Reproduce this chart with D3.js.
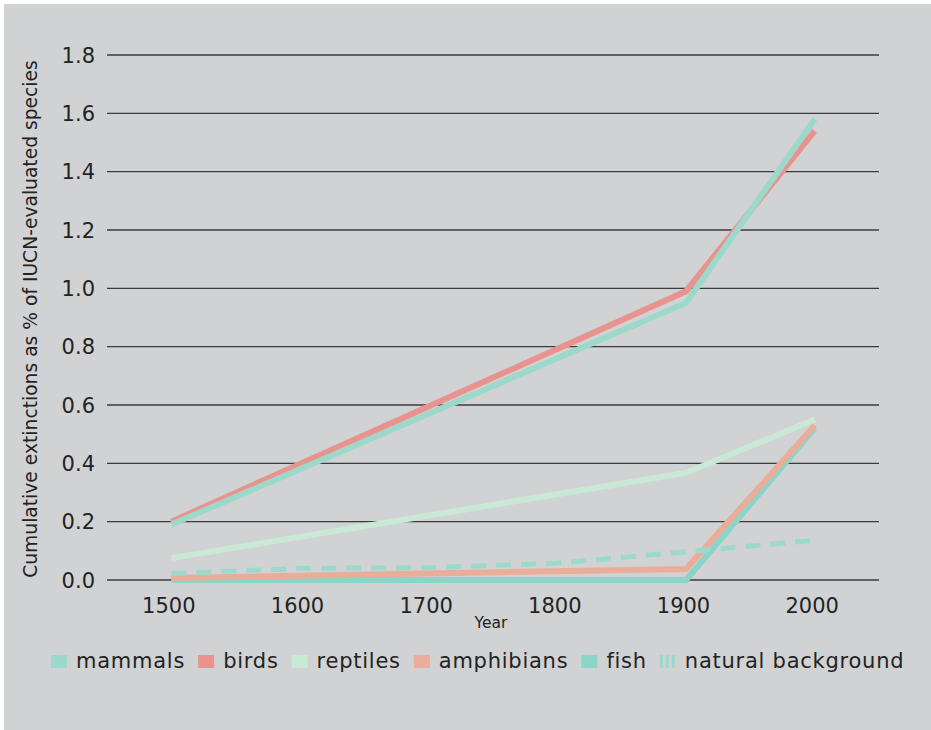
<!DOCTYPE html>
<html>
<head>
<meta charset="utf-8">
<script src="https://cdn.jsdelivr.net/npm/d3@7"></script>
<style>
  body { margin: 0; background: #ffffff; }
  svg { display: block; }
  text { font-family: "DejaVu Sans", sans-serif; fill: #232323; }
  .grid line { stroke: #3b3b3b; stroke-width: 1.4; }
</style>
</head>
<body>
<div id="chart"></div>
<script>
// Data
const years = [1500, 1600, 1700, 1800, 1900, 2000];
const yTicks = [0, 0.2, 0.4, 0.6, 0.8, 1.0, 1.2, 1.4, 1.6, 1.8];

const mammals    = [0.19, null, null, null, 0.95, 1.58];
const birds      = [0.20, null, null, null, 0.99, 1.54];
const reptiles   = [0.075, null, null, null, 0.367, 0.55];
const amphibians = [0.007, null, null, null, 0.038, 0.53];
const fish       = [0.0, null, null, null, 0.0, 0.52];
const background = [0.022, 0.04, 0.042, 0.058, 0.097, 0.136];

const seriesNames  = ["mammals", "birds", "reptiles", "amphibians", "fish", "natural background"];
const seriesColors = ["#9dd9cb", "#e8938e", "#cae8d6", "#e9ad9a", "#8ad4c8", "#9dd9cb"];

const width = 931, height = 730;

const svg = d3.select("#chart").append("svg")
    .attr("width", width)
    .attr("height", height);

// grey panel
svg.append("rect")
    .attr("x", 4).attr("y", 4)
    .attr("width", width - 4).attr("height", height - 4)
    .attr("fill", "#d1d2d4");

const x = d3.scaleLinear().domain([1450, 2050]).range([107, 879]);
const y = d3.scaleLinear().domain([0, 1.8]).range([580, 55]);

// gridlines
svg.append("g").attr("class", "grid")
  .selectAll("line")
  .data(yTicks)
  .join("line")
    .attr("x1", x.range()[0])
    .attr("x2", x.range()[1])
    .attr("y1", d => y(d))
    .attr("y2", d => y(d));

// y tick labels
svg.append("g")
  .selectAll("text")
  .data(yTicks)
  .join("text")
    .attr("x", 95)
    .attr("y", d => y(d))
    .attr("dy", "0.36em")
    .attr("text-anchor", "end")
    .attr("font-size", 21)
    .text(d => d.toFixed(1));

// x tick labels
svg.append("g")
  .selectAll("text")
  .data(years)
  .join("text")
    .attr("x", d => x(d) - 2.5)
    .attr("y", 613)
    .attr("text-anchor", "middle")
    .attr("font-size", 21)
    .text(d => d);

svg.append("text")
    .attr("x", 491)
    .attr("y", 628)
    .attr("text-anchor", "middle")
    .attr("font-size", 15.5)
    .text("Year");

const yTitle = svg.append("text")
    .attr("transform", "translate(37,319) rotate(-90)")
    .attr("text-anchor", "middle")
    .attr("font-size", 16)
    .text("Cumulative extinctions as % of IUCN-evaluated species");
// fit the title to the span it takes in the original
const tl = yTitle.node().getComputedTextLength();
yTitle.attr("font-size", 16 * 518 / tl);

// lines
const line = d3.line()
    .x(d => x(d.year))
    .y(d => y(d.v));

const toPts = arr => years.map((yr, i) => ({ year: yr, v: arr[i] })).filter(d => d.v !== null);

// draw order: bottom to top
const drawOrder = [
  { data: fish, i: 4 },
  { data: amphibians, i: 3 },
  { data: reptiles, i: 2 },
  { data: birds, i: 1 },
  { data: mammals, i: 0 },
  { data: background, i: 5, dashed: true }
];

svg.append("g")
  .selectAll("path")
  .data(drawOrder)
  .join("path")
    .attr("d", d => line(toPts(d.data)))
    .attr("fill", "none")
    .attr("stroke", d => seriesColors[d.i])
    .attr("stroke-width", d => d.dashed ? 5 : 6)
    .attr("stroke-dasharray", d => d.dashed ? "15 10" : null)
    .attr("stroke-linejoin", "miter");

// legend
const legend = svg.append("g").attr("transform", "translate(51,0)");
let lx = 0;
seriesNames.forEach((name, i) => {
  const g = legend.append("g").attr("transform", `translate(${lx},0)`);
  if (i === 5) {
    [0, 6, 12].forEach(o => {
      g.append("rect")
          .attr("x", o)
          .attr("y", 655)
          .attr("width", 3).attr("height", 13)
          .attr("fill", seriesColors[i]);
    });
  } else {
    g.append("rect")
        .attr("x", 0).attr("y", 655)
        .attr("width", 16).attr("height", 13)
        .attr("fill", seriesColors[i]);
  }
  const t = g.append("text")
      .attr("x", 25)
      .attr("y", 668)
      .attr("font-size", 21)
      .attr("letter-spacing", 0.75)
      .text(name);
  lx += 25 + t.node().getComputedTextLength() + 13;
});
</script>
</body>
</html>
